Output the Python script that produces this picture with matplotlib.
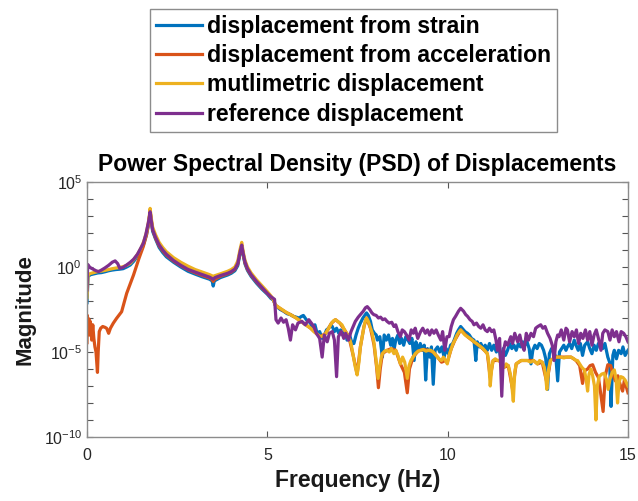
import numpy as np
import matplotlib
matplotlib.use("Agg")
import matplotlib.pyplot as plt
from matplotlib.ticker import NullFormatter

plt.rcParams['font.family'] = ['Liberation Sans', 'DejaVu Sans']
plt.rcParams['mathtext.fontset'] = 'custom'
plt.rcParams['mathtext.rm'] = 'Liberation Sans'
plt.rcParams['mathtext.it'] = 'Liberation Sans:italic'
plt.rcParams['mathtext.bf'] = 'Liberation Sans:bold'

# values, magnitudes given as log10
strain_f = [0.0, 0.03, 0.1, 0.2, 0.3, 0.4, 0.5, 0.6, 0.7, 0.8, 0.9, 1.0, 1.1, 1.2, 1.3, 1.4, 1.5, 1.58,
            1.65, 1.7, 1.73, 1.75, 1.78, 1.82, 1.9, 2.0, 2.1, 2.2, 2.4, 2.6, 2.8, 3.0, 3.2, 3.4, 3.47,
            3.5, 3.53, 3.7, 3.9, 4.0, 4.1, 4.18, 4.24, 4.29, 4.33, 4.38, 4.45, 4.55, 4.7, 4.85, 5.0,
            5.1, 5.17, 5.22, 5.3, 5.36, 5.45, 5.55, 5.64, 5.72, 5.8, 5.88, 5.95, 6.0, 6.08, 6.15, 6.19,
            6.25, 6.32, 6.38, 6.45, 6.52, 6.57, 6.64, 6.7, 6.76, 6.8, 6.86, 6.92, 6.98, 7.03, 7.1, 7.16,
            7.21, 7.28, 7.35, 7.4, 7.46, 7.52, 7.58, 7.65, 7.7, 7.75, 7.8, 7.86, 7.91, 7.97, 8.02, 8.05,
            8.12, 8.19, 8.24, 8.3, 8.36, 8.42, 8.47, 8.51, 8.56, 8.62, 8.67, 8.72, 8.78, 8.84, 8.9, 8.95,
            9.01, 9.07, 9.12, 9.18, 9.24, 9.3, 9.35, 9.39, 9.44, 9.5, 9.55, 9.6, 9.65, 9.72, 9.78, 9.84,
            9.9, 9.96, 10.02, 10.08, 10.14, 10.18, 10.25, 10.3, 10.36, 10.42, 10.48, 10.55, 10.6, 10.66,
            10.73, 10.78, 10.82, 10.88, 10.92, 10.98, 11.04, 11.1, 11.16, 11.22, 11.28, 11.35, 11.42,
            11.48, 11.54, 11.6, 11.66, 11.72, 11.78, 11.84, 11.9, 11.96, 12.02, 12.08, 12.14, 12.2,
            12.26, 12.31, 12.36, 12.42, 12.48, 12.54, 12.6, 12.66, 12.72, 12.77, 12.82, 12.88, 12.94,
            13.0, 13.05, 13.1, 13.16, 13.22, 13.28, 13.32, 13.38, 13.44, 13.51, 13.56, 13.62, 13.68,
            13.74, 13.8, 13.88, 13.94, 14.0, 14.06, 14.12, 14.18, 14.25, 14.3, 14.36, 14.44, 14.49,
            14.53, 14.58, 14.62, 14.68, 14.74, 14.81, 14.86, 14.92, 15.0]
strain_db = [-2.1, -0.55, -0.45, -0.4, -0.35, -0.33, -0.28, -0.22, -0.18, -0.15, -0.13, -0.1, 0.0, 0.12,
             0.35, 0.65, 1.0, 1.4, 1.9, 2.45, 2.9, 3.3, 2.7, 2.1, 1.65, 1.15, 0.85, 0.6, 0.28, 0.0, -0.25,
             -0.42, -0.58, -0.72, -0.82, -1.12, -0.82, -0.62, -0.47, -0.37, -0.22, 0.08, 0.75, 1.25,
             0.7, 0.18, -0.2, -0.55, -0.95, -1.3, -1.6, -1.85, -1.95, -2.24, -2.4, -2.5, -2.6, -2.75,
             -2.8, -2.9, -2.95, -3.0, -2.9, -2.85, -3.1, -3.2, -3.3, -3.5, -3.4, -3.9, -3.8, -4.2, -4.1,
             -3.7, -3.6, -3.4, -3.5, -3.8, -3.6, -3.9, -3.7, -4.0, -3.8, -4.3, -4.0, -4.5, -4.5, -4.0,
             -3.6, -3.3, -3.0, -2.85, -2.7, -2.85, -3.2, -3.7, -3.9, -4.0, -4.3, -4.1, -5.3, -4.0, -4.3,
             -4.0, -4.6, -4.2, -4.9, -4.3, -4.0, -4.5, -4.2, -4.6, -4.1, -4.3, -4.5, -4.2, -5.5, -4.4,
             -4.9, -4.5, -4.9, -4.6, -6.65, -4.8, -5.3, -4.7, -6.9, -4.9, -4.7, -5.0, -4.7, -5.3, -4.8,
             -5.1, -4.6, -4.5, -4.3, -3.9, -3.7, -3.5, -3.65, -3.8, -3.9, -4.0, -4.2, -4.3, -5.5, -4.4,
             -4.7, -4.5, -4.8, -4.6, -4.9, -4.5, -4.9, -4.6, -5.0, -4.7, -5.5, -4.8, -5.2, -4.9, -4.5,
             -4.8, -4.6, -4.9, -4.5, -4.7, -4.4, -4.6, -4.4, -4.8, -5.7, -4.9, -4.6, -4.8, -4.5, -4.6,
             -4.9, -5.4, -7.2, -5.1, -4.8, -5.0, -5.3, -6.7, -5.0, -4.8, -4.6, -4.9, -4.7, -4.5, -4.8,
             -4.3, -4.6, -4.9, -4.5, -5.2, -4.6, -4.4, -4.8, -5.1, -4.6, -4.9, -4.5, -4.6, -4.8, -4.5,
             -5.3, -5.6, -8.2, -5.2, -4.9, -5.4, -4.9, -5.1, -4.7, -5.2, -4.9]

accel_f = [0.0, 0.01, 0.03, 0.05, 0.07, 0.09, 0.11, 0.13, 0.16, 0.19, 0.22, 0.25, 0.27, 0.29, 0.31,
           0.34, 0.38, 0.435, 0.5, 0.546, 0.6, 0.65, 0.73, 0.82, 0.96, 1.1, 1.29, 1.44, 1.56, 1.65,
           1.71, 1.75, 1.78, 1.82, 1.9, 2.0, 2.1, 2.2, 2.4, 2.6, 2.8, 3.0, 3.2, 3.4, 3.47, 3.5, 3.53,
           3.7, 3.9, 4.0, 4.1, 4.18, 4.24, 4.29, 4.33, 4.38, 4.45, 4.55, 4.7, 4.85, 5.0, 5.1, 5.17,
           5.22, 5.36, 5.5, 5.64, 5.8, 6.0, 6.2, 6.38, 6.47, 6.62, 6.78, 6.89, 7.01, 7.14, 7.26, 7.38,
           7.49, 7.58, 7.68, 7.75, 7.86, 7.96, 8.03, 8.08, 8.13, 8.19, 8.32, 8.44, 8.56, 8.69, 8.8,
           8.88, 8.94, 9.04, 9.18, 9.32, 9.46, 9.6, 9.72, 9.83, 9.94, 9.99, 10.1, 10.2, 10.36, 10.55,
           10.73, 10.92, 11.04, 11.1, 11.18, 11.26, 11.43, 11.56, 11.68, 11.8, 11.9, 12.04, 12.21,
           12.38, 12.49, 12.62, 12.75, 12.85, 13.0, 13.14, 13.3, 13.42, 13.56, 13.66, 13.74, 13.8,
           13.88, 13.95, 14.02, 14.1, 14.18, 14.24, 14.31, 14.37, 14.44, 14.52, 14.58, 14.65, 14.72,
           14.78, 14.85, 14.9, 14.96, 15.0]
accel_db = [-4.45, -2.85, -3.6, -3.05, -4.0, -3.2, -3.5, -4.3, -3.4, -4.2, -4.7, -5.0, -5.6, -6.2,
            -5.0, -3.8, -3.6, -3.5, -3.55, -3.61, -3.9, -3.6, -3.3, -3.02, -2.63, -1.55, -0.47, 0.5,
            1.2, 1.9, 2.6, 3.3, 2.8, 2.2, 1.7, 1.25, 0.95, 0.7, 0.35, 0.08, -0.16, -0.34, -0.5, -0.65,
            -0.74, -0.85, -0.74, -0.54, -0.4, -0.3, -0.14, 0.18, 0.85, 1.3, 0.75, 0.25, -0.14, -0.48,
            -0.88, -1.23, -1.55, -1.78, -1.93, -2.24, -2.45, -2.65, -2.8, -3.0, -3.3, -3.6, -3.95,
            -4.1, -3.9, -3.3, -3.1, -3.3, -3.7, -4.1, -5.2, -6.3, -4.7, -3.5, -3.0, -3.6, -4.6, -5.9,
            -7.1, -6.0, -5.1, -4.9, -4.8, -4.9, -5.7, -6.2, -7.4, -6.0, -5.3, -4.95, -4.85, -4.9, -5.0,
            -5.3, -5.6, -5.5, -5.6, -4.8, -4.3, -3.7, -4.1, -4.4, -4.7, -4.95, -5.1, -6.5, -5.5, -5.5,
            -5.9, -5.8, -7.2, -5.7, -5.5, -5.5, -5.5, -5.7, -5.6, -6.8, -5.5, -5.3, -5.3, -5.3, -5.3,
            -5.5, -5.8, -6.85, -6.1, -6.0, -5.8, -5.75, -6.2, -6.5, -7.4, -8.5, -6.4, -5.75, -5.8,
            -6.3, -6.7, -6.4, -6.9, -7.3, -6.65, -7.1, -7.4]

multi_f = [0.0, 0.03, 0.1, 0.2, 0.3, 0.4, 0.5, 0.6, 0.7, 0.8, 0.9, 1.0, 1.1, 1.2, 1.3, 1.4, 1.5, 1.58,
           1.65, 1.7, 1.73, 1.75, 1.78, 1.82, 1.9, 2.0, 2.1, 2.2, 2.4, 2.6, 2.8, 3.0, 3.2, 3.4, 3.47,
           3.5, 3.53, 3.7, 3.9, 4.0, 4.1, 4.18, 4.24, 4.29, 4.33, 4.38, 4.45, 4.55, 4.7, 4.85, 5.0,
           5.1, 5.17, 5.22, 5.3, 5.36, 5.45, 5.55, 5.64, 5.72, 5.8, 5.92, 6.0, 6.1, 6.2, 6.29, 6.38,
           6.47, 6.55, 6.62, 6.7, 6.78, 6.84, 6.89, 6.95, 7.01, 7.07, 7.14, 7.2, 7.26, 7.32, 7.38,
           7.44, 7.49, 7.54, 7.58, 7.63, 7.68, 7.72, 7.75, 7.8, 7.86, 7.91, 7.96, 8.01, 8.07, 8.12,
           8.16, 8.19, 8.25, 8.32, 8.38, 8.44, 8.51, 8.56, 8.62, 8.69, 8.75, 8.81, 8.88, 8.93, 8.98,
           9.04, 9.1, 9.18, 9.25, 9.32, 9.4, 9.46, 9.53, 9.6, 9.66, 9.72, 9.78, 9.83, 9.88, 9.94,
           9.99, 10.04, 10.1, 10.15, 10.2, 10.26, 10.32, 10.36, 10.42, 10.48, 10.55, 10.62, 10.68,
           10.73, 10.8, 10.86, 10.92, 10.98, 11.04, 11.1, 11.14, 11.18, 11.22, 11.26, 11.32, 11.38,
           11.43, 11.5, 11.56, 11.62, 11.68, 11.74, 11.78, 11.82, 11.86, 11.9, 11.96, 12.04, 12.12,
           12.21, 12.3, 12.38, 12.44, 12.49, 12.55, 12.62, 12.68, 12.72, 12.75, 12.8, 12.85, 12.92,
           13.0, 13.08, 13.14, 13.22, 13.3, 13.36, 13.42, 13.5, 13.56, 13.6, 13.66, 13.72, 13.79,
           13.84, 13.88, 13.92, 13.97, 14.02, 14.07, 14.11, 14.15, 14.2, 14.27, 14.34, 14.4, 14.45,
           14.5, 14.56, 14.62, 14.67, 14.71, 14.75, 14.8, 14.86, 14.92, 15.0]
multi_db = [-1.8, -0.45, -0.38, -0.32, -0.27, -0.24, -0.2, -0.15, -0.1, -0.06, -0.03, 0.02, 0.1, 0.22,
            0.45, 0.75, 1.12, 1.55, 2.05, 2.6, 3.05, 3.45, 2.9, 2.35, 1.9, 1.45, 1.15, 0.9, 0.55,
            0.28, 0.05, -0.15, -0.3, -0.45, -0.52, -0.6, -0.52, -0.4, -0.25, -0.15, 0.0, 0.35, 1.0,
            1.45, 0.9, 0.4, 0.0, -0.35, -0.75, -1.1, -1.45, -1.7, -1.9, -2.24, -2.35, -2.43, -2.55,
            -2.7, -2.8, -2.9, -3.0, -3.2, -3.3, -3.45, -3.6, -3.8, -3.95, -4.1, -4.05, -3.9, -3.6,
            -3.3, -3.15, -3.1, -3.2, -3.3, -3.4, -3.7, -3.9, -4.1, -4.5, -5.2, -5.9, -6.35, -5.6,
            -4.7, -4.1, -3.5, -3.15, -3.0, -3.2, -3.6, -3.9, -4.5, -5.4, -6.55, -5.8, -5.3, -5.1,
            -4.95, -4.9, -5.0, -4.8, -5.1, -4.9, -5.2, -5.7, -5.3, -5.6, -6.55, -5.8, -5.5, -5.3,
            -5.1, -4.95, -4.9, -4.85, -4.95, -4.9, -4.9, -5.0, -5.15, -5.3, -5.45, -5.5, -5.3, -5.5,
            -5.7, -5.2, -4.8, -4.5, -4.3, -4.0, -3.8, -3.7, -3.85, -4.0, -4.1, -4.2, -4.3, -4.4,
            -4.5, -4.6, -4.7, -4.8, -4.95, -5.1, -5.6, -7.0, -6.0, -5.5, -5.4, -5.5, -5.5, -5.7,
            -5.9, -5.7, -5.8, -6.3, -7.0, -7.9, -6.2, -5.7, -5.6, -5.5, -5.5, -5.5, -5.6, -5.5,
            -5.6, -5.7, -5.5, -5.6, -5.9, -6.5, -7.2, -6.0, -5.5, -5.4, -5.3, -5.3, -5.3, -5.35,
            -5.3, -5.3, -5.3, -5.4, -5.5, -5.5, -5.7, -5.9, -6.05, -6.6, -7.3, -6.3, -6.0, -6.4,
            -7.0, -9.0, -7.0, -6.45, -6.3, -6.25, -6.6, -7.2, -6.6, -6.2, -6.05, -6.6, -8.0, -6.8,
            -6.45, -6.5, -6.65, -7.0]

ref_f = [0.0, 0.02, 0.05, 0.1, 0.18, 0.25, 0.32, 0.4, 0.5, 0.6, 0.7, 0.78, 0.85, 0.91, 1.0, 1.1, 1.2,
         1.29, 1.4, 1.5, 1.56, 1.63, 1.7, 1.73, 1.75, 1.78, 1.82, 1.9, 2.0, 2.1, 2.2, 2.4, 2.6, 2.8,
         3.0, 3.2, 3.4, 3.47, 3.5, 3.55, 3.7, 3.9, 4.0, 4.1, 4.18, 4.24, 4.29, 4.33, 4.38, 4.45,
         4.55, 4.7, 4.85, 5.0, 5.1, 5.2, 5.24, 5.3, 5.38, 5.45, 5.52, 5.58, 5.64, 5.7, 5.78, 5.85,
         5.96, 6.05, 6.15, 6.22, 6.29, 6.36, 6.45, 6.52, 6.58, 6.66, 6.72, 6.8, 6.86, 6.92, 6.97,
         7.05, 7.12, 7.17, 7.25, 7.32, 7.38, 7.44, 7.52, 7.58, 7.66, 7.72, 7.77, 7.84, 7.9, 7.95,
         8.02, 8.08, 8.14, 8.2, 8.26, 8.32, 8.38, 8.45, 8.51, 8.56, 8.62, 8.69, 8.74, 8.8, 8.86,
         8.93, 8.99, 9.05, 9.1, 9.17, 9.25, 9.31, 9.38, 9.44, 9.5, 9.56, 9.62, 9.68, 9.74, 9.81,
         9.86, 9.92, 9.98, 10.04, 10.1, 10.16, 10.22, 10.3, 10.36, 10.44, 10.5, 10.55, 10.62, 10.68,
         10.73, 10.8, 10.86, 10.92, 10.98, 11.04, 11.1, 11.16, 11.22, 11.28, 11.34, 11.38, 11.44,
         11.5, 11.55, 11.6, 11.66, 11.75, 11.8, 11.86, 11.94, 12.0, 12.06, 12.12, 12.18, 12.24,
         12.31, 12.38, 12.44, 12.5, 12.58, 12.64, 12.7, 12.77, 12.84, 12.9, 12.95, 13.0, 13.05,
         13.09, 13.15, 13.22, 13.28, 13.32, 13.38, 13.45, 13.51, 13.57, 13.63, 13.69, 13.75, 13.82,
         13.88, 13.94, 14.0, 14.06, 14.12, 14.18, 14.25, 14.3, 14.36, 14.44, 14.5, 14.56, 14.62,
         14.68, 14.75, 14.81, 14.88, 14.94, 15.0]
ref_db = [-1.35, 0.15, 0.05, -0.05, -0.14, -0.22, -0.27, -0.18, -0.05, 0.1, 0.28, 0.36, 0.2, -0.08,
          -0.02, 0.12, 0.28, 0.45, 0.75, 1.15, 1.39, 1.9, 2.6, 2.95, 3.25, 2.75, 2.2, 1.75, 1.3,
          1.0, 0.75, 0.38, 0.1, -0.14, -0.3, -0.45, -0.6, -0.68, -0.72, -0.62, -0.5, -0.37, -0.27,
          -0.12, 0.2, 0.85, 1.29, 0.8, 0.3, -0.1, -0.45, -0.85, -1.2, -1.55, -1.75, -1.9, -3.1,
          -3.3, -3.0, -3.25, -3.1, -3.6, -4.3, -3.4, -3.7, -3.3, -3.2, -3.4, -3.1, -3.3, -3.5,
          -3.9, -4.2, -5.3, -4.0, -4.4, -3.9, -3.8, -4.3, -6.45, -4.1, -3.8, -4.2, -3.9, -4.3,
          -3.8, -3.5, -3.2, -2.95, -2.8, -2.6, -2.4, -2.33, -2.5, -2.7, -2.8, -2.85, -3.0, -2.95,
          -3.1, -3.05, -3.2, -3.3, -3.25, -3.5, -3.4, -3.8, -4.1, -3.7, -3.8, -4.0, -4.3, -3.7,
          -3.9, -3.6, -4.2, -3.8, -3.6, -3.9, -3.7, -4.0, -3.7, -3.9, -3.7, -4.0, -4.3, -3.8, -4.9,
          -4.1, -4.1, -3.5, -3.1, -2.9, -2.6, -2.43, -2.6, -2.8, -2.9, -3.1, -3.2, -3.4, -3.3,
          -3.5, -3.6, -3.4, -3.7, -3.8, -3.6, -3.8, -3.7, -4.3, -4.9, -4.2, -7.6, -4.9, -4.4,
          -4.6, -4.1, -4.5, -3.9, -4.4, -4.0, -4.6, -4.9, -3.9, -4.3, -3.9, -4.1, -3.6, -3.5,
          -3.4, -3.6, -3.5, -3.9, -4.2, -4.6, -5.5, -4.4, -4.0, -4.1, -3.7, -4.3, -3.6, -3.7,
          -4.4, -3.8, -4.1, -3.7, -4.5, -3.9, -4.2, -3.7, -4.3, -3.8, -4.6, -4.0, -3.7, -4.2,
          -4.9, -3.9, -3.7, -3.8, -4.3, -3.7, -4.1, -3.8, -4.4, -3.8, -3.9, -4.1, -4.4]

labels = ['displacement from strain', 'displacement from acceleration',
          'mutlimetric displacement', 'reference displacement']
colors = ['#0072BD', '#D95319', '#EDB120', '#7E2F8E']

fig = plt.figure(figsize=(6.38, 5.01), dpi=100)
ax = fig.add_axes([87/638, 64/501, 541/638, 255/501])

series = [(strain_f, strain_db), (accel_f, accel_db), (multi_f, multi_db), (ref_f, ref_db)]
handles = []
for (f, db), c, lab in zip(series, colors, labels):
    h, = ax.semilogy(f, 10.0 ** np.array(db), color=c, lw=2.3, label=lab)
    handles.append(h)

ax.set_xlim(0, 15)
ax.set_ylim(1e-10, 1e5)
ax.set_xticks([0, 5, 10, 15])
ax.set_xticklabels(['0', '5', '10', '15'])
ax.set_yticks([1e-10, 1e-5, 1e0, 1e5])
ax.set_yticklabels(['$10^{-10}$', '$10^{-5}$', '$10^{0}$', '$10^{5}$'])
ax.set_yticks(10.0 ** np.arange(-10, 6), minor=True)
ax.yaxis.set_minor_formatter(NullFormatter())
ax.tick_params(which='both', direction='in', top=True, right=True, length=4,
               width=0.8, color='#555555', labelsize=11.5, labelcolor='#262626')
ax.tick_params(axis='x', pad=8)
for s in ax.spines.values():
    s.set_color('#8c8c8c')
    s.set_linewidth(1.0)

ax.set_title('Power Spectral Density (PSD) of Displacements', fontsize=16.5,
             fontweight='bold', pad=8)
ax.set_xlabel('Frequency (Hz)', fontsize=16.5, fontweight='bold', color='#1a1a1a', labelpad=4)
ax.set_ylabel('Magnitude', fontsize=16, fontweight='bold', color='#1a1a1a', labelpad=6)

leg = fig.legend(handles, labels, loc='upper left', bbox_to_anchor=(150/638, 1 - 9/501),
                 bbox_transform=fig.transFigure, borderaxespad=0, fancybox=False,
                 prop={'weight': 'bold', 'size': 16.6}, handlelength=2.0, handletextpad=0.2,
                 labelspacing=0.27, borderpad=0.26, framealpha=1)
leg.get_frame().set_edgecolor('#8c8c8c')
leg.get_frame().set_linewidth(1.0)

fig.savefig('out.png', dpi=100)
